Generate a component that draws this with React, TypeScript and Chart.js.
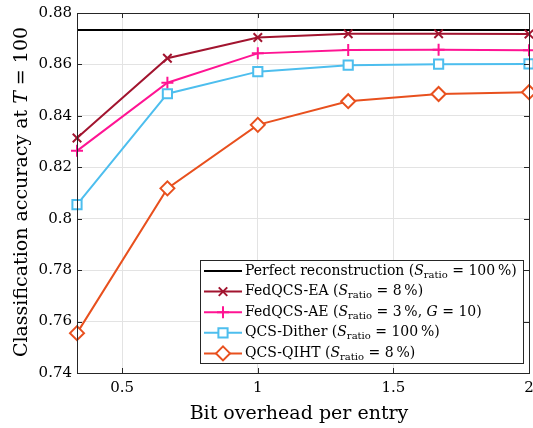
import React, { useEffect, useRef } from "react";
import { Chart, registerables } from "chart.js";
Chart.register(...registerables);

const xValues = [1 / 3, 2 / 3, 1, 4 / 3, 5 / 3, 2];
const perfectValue = 0.8734;
const fedqcsEA = [0.8314, 0.8624, 0.8705, 0.8719, 0.8719, 0.8718];
const fedqcsAE = [0.8264, 0.8529, 0.8643, 0.8656, 0.8657, 0.8655];
const qcsDither = [0.8055, 0.8486, 0.8572, 0.8597, 0.8601, 0.8602];
const qcsQIHT = [0.7555, 0.8118, 0.8365, 0.8457, 0.8485, 0.8492];
const xTicks = [0.5, 1, 1.5, 2];
const xTickLabels = ["0.5", "1", "1.5", "2"];
const yTicks = [0.74, 0.76, 0.78, 0.8, 0.82, 0.84, 0.86, 0.88];
const yTickLabels = ["0.74", "0.76", "0.78", "0.8", "0.82", "0.84", "0.86", "0.88"];

type Seg = { t: string; s?: "i" | "sub" };
const legendLabels: Seg[][] = [
  [{ t: "Perfect reconstruction (" }, { t: "S", s: "i" }, { t: "ratio", s: "sub" }, { t: " = 100\u2009%)" }],
  [{ t: "FedQCS-EA (" }, { t: "S", s: "i" }, { t: "ratio", s: "sub" }, { t: " = 8\u2009%)" }],
  [{ t: "FedQCS-AE (" }, { t: "S", s: "i" }, { t: "ratio", s: "sub" }, { t: " = 3\u2009%, " }, { t: "G", s: "i" }, { t: " = 10)" }],
  [{ t: "QCS-Dither (" }, { t: "S", s: "i" }, { t: "ratio", s: "sub" }, { t: " = 100\u2009%)" }],
  [{ t: "QCS-QIHT (" }, { t: "S", s: "i" }, { t: "ratio", s: "sub" }, { t: " = 8\u2009%)" }],
];
const yTitle: Seg[] = [{ t: "Classification accuracy at " }, { t: "T", s: "i" }, { t: " = 100" }];
const xTitle = "Bit overhead per entry";

const colors = ["#000000", "#A2142F", "#FF1493", "#4DBEEE", "#E8501E"];
const styles: (string | false)[] = [false, "crossRot", "cross", "rect", "rectRot"];
const radii = [0, 6, 6, 6.5, 7];
const FAMILY = "'DejaVu Serif', serif";

function drawRich(ctx: CanvasRenderingContext2D, segs: Seg[], x: number, y: number, size: number, measureOnly = false) {
  let cx = x;
  for (const seg of segs) {
    let font = `${size}px ${FAMILY}`;
    let dy = 0;
    if (seg.s === "i") font = `italic ${size}px ${FAMILY}`;
    if (seg.s === "sub") {
      font = `${Math.round(size * 0.7)}px ${FAMILY}`;
      dy = size * 0.28;
    }
    ctx.font = font;
    if (!measureOnly) ctx.fillText(seg.t, cx, y + dy);
    cx += ctx.measureText(seg.t).width;
  }
  return cx - x;
}

function drawMarker(ctx: CanvasRenderingContext2D, style: string | false, x: number, y: number, r: number, color: string) {
  if (!style) return;
  ctx.save();
  ctx.strokeStyle = color;
  ctx.lineWidth = 2;
  ctx.fillStyle = "#ffffff";
  ctx.beginPath();
  if (style === "crossRot") {
    const d = r * Math.SQRT1_2;
    ctx.moveTo(x - d, y - d);
    ctx.lineTo(x + d, y + d);
    ctx.moveTo(x - d, y + d);
    ctx.lineTo(x + d, y - d);
    ctx.stroke();
  } else if (style === "cross") {
    ctx.moveTo(x - r, y);
    ctx.lineTo(x + r, y);
    ctx.moveTo(x, y - r);
    ctx.lineTo(x, y + r);
    ctx.stroke();
  } else if (style === "rect") {
    const d = r * Math.SQRT1_2;
    ctx.rect(x - d, y - d, 2 * d, 2 * d);
    ctx.fill();
    ctx.stroke();
  } else if (style === "rectRot") {
    ctx.moveTo(x, y - r);
    ctx.lineTo(x + r, y);
    ctx.lineTo(x, y + r);
    ctx.lineTo(x - r, y);
    ctx.closePath();
    ctx.fill();
    ctx.stroke();
  }
  ctx.restore();
}

const overlayPlugin = {
  id: "overlay",
  afterDatasetsDraw(chart: any) {
    const ctx: CanvasRenderingContext2D = chart.ctx;
    const a = chart.chartArea;
    const xs = chart.scales.x;
    const ys = chart.scales.y;
    ctx.save();
    // frame
    ctx.strokeStyle = "#262626";
    ctx.lineWidth = 1;
    ctx.strokeRect(Math.round(a.left) + 0.5, Math.round(a.top) + 0.5, Math.round(a.right - a.left), Math.round(a.bottom - a.top));
    // inward ticks
    const tl = 5;
    ctx.beginPath();
    for (const v of xTicks) {
      const px = Math.round(xs.getPixelForValue(v)) + 0.5;
      ctx.moveTo(px, a.bottom);
      ctx.lineTo(px, a.bottom - tl);
      ctx.moveTo(px, a.top);
      ctx.lineTo(px, a.top + tl);
    }
    for (const v of yTicks) {
      const py = Math.round(ys.getPixelForValue(v)) + 0.5;
      ctx.moveTo(a.left, py);
      ctx.lineTo(a.left + tl, py);
      ctx.moveTo(a.right, py);
      ctx.lineTo(a.right - tl, py);
    }
    ctx.stroke();

    // legend
    const bx = 200, by = 260, bw = 323, bh = 103;
    ctx.fillStyle = "#ffffff";
    ctx.fillRect(bx, by, bw, bh);
    ctx.strokeStyle = "#262626";
    ctx.lineWidth = 1;
    ctx.strokeRect(bx + 0.5, by + 0.5, bw, bh);
    const rowH = 20.6;
    for (let i = 0; i < legendLabels.length; i++) {
      const cy = by + 11 + i * rowH;
      ctx.strokeStyle = colors[i];
      ctx.lineWidth = 2;
      ctx.beginPath();
      ctx.moveTo(bx + 4, cy);
      ctx.lineTo(bx + 42, cy);
      ctx.stroke();
      drawMarker(ctx, styles[i], bx + 23, cy, radii[i], colors[i]);
      ctx.fillStyle = "#000000";
      ctx.textBaseline = "middle";
      ctx.textAlign = "left";
      drawRich(ctx, legendLabels[i], bx + 45, cy, 14);
    }

    // axis titles
    ctx.fillStyle = "#000000";
    ctx.textBaseline = "alphabetic";
    ctx.textAlign = "left";
    ctx.font = `19px ${FAMILY}`;
    const xw = ctx.measureText(xTitle).width;
    ctx.fillText(xTitle, 299 - xw / 2, 419);

    const yw = drawRich(ctx, yTitle, 0, 0, 19, true);
    ctx.translate(27, 192);
    ctx.rotate(-Math.PI / 2);
    drawRich(ctx, yTitle, -yw / 2, 0, 19);
    ctx.restore();
  },
};

export default function App() {
  const ref = useRef<HTMLCanvasElement | null>(null);
  useEffect(() => {
    document.body.style.margin = "0";
    const mk = (i: number, data: number[], label: string) => ({
      label,
      data: xValues.map((x, k) => ({ x, y: data[k] })),
      borderColor: colors[i],
      backgroundColor: "#ffffff",
      borderWidth: 2,
      pointStyle: styles[i] as any,
      pointRadius: radii[i],
      pointBorderWidth: 2,
      pointBackgroundColor: "#ffffff",
      pointBorderColor: colors[i],
      tension: 0,
      clip: false as any,
    });
    const chart = new Chart(ref.current!, {
      type: "line",
      data: {
        datasets: [
          mk(4, qcsQIHT, "QCS-QIHT"),
          mk(3, qcsDither, "QCS-Dither"),
          mk(2, fedqcsAE, "FedQCS-AE"),
          mk(1, fedqcsEA, "FedQCS-EA"),
          {
            label: "Perfect reconstruction",
            data: [
              { x: xValues[0], y: perfectValue },
              { x: xValues[xValues.length - 1], y: perfectValue },
            ],
            borderColor: colors[0],
            borderWidth: 2,
            pointRadius: 0,
          },
        ],
      },
      options: {
        animation: false,
        responsive: false,
        events: [],
        layout: { autoPadding: false, padding: { left: 0, right: 4, top: 13, bottom: 0 } },
        plugins: { legend: { display: false }, tooltip: { enabled: false } },
        scales: {
          x: {
            type: "linear",
            min: xValues[0],
            max: 2,
            afterBuildTicks: (s: any) => {
              s.ticks = xTicks.map((v) => ({ value: v }));
            },
            afterFit: (s: any) => {
              s.height = 55;
              s.paddingLeft = 0;
              s.paddingRight = 0;
            },
            ticks: {
              callback: (v: any) => xTickLabels[xTicks.indexOf(Number(v))] ?? "",
              color: "#000",
              font: { family: FAMILY, size: 15 },
              padding: 6,
              maxRotation: 0,
            },
            grid: { color: "#e3e3e3", drawTicks: false, lineWidth: 1 },
            border: { display: false },
          },
          y: {
            type: "linear",
            min: 0.74,
            max: 0.88,
            afterBuildTicks: (s: any) => {
              s.ticks = yTicks.map((v) => ({ value: v }));
            },
            afterFit: (s: any) => {
              s.width = 77;
              s.paddingTop = 0;
              s.paddingBottom = 0;
            },
            ticks: {
              callback: (v: any) => {
                const idx = yTicks.findIndex((t) => Math.abs(t - Number(v)) < 1e-6);
                return idx >= 0 ? yTickLabels[idx] : "";
              },
              color: "#000",
              font: { family: FAMILY, size: 15 },
              padding: 5,
            },
            grid: { color: "#e3e3e3", drawTicks: false, lineWidth: 1 },
            border: { display: false },
          },
        },
      },
      plugins: [overlayPlugin],
    });
    return () => chart.destroy();
  }, []);
  return (
    <div style={{ position: "absolute", left: 0, top: 0, width: 533, height: 428, background: "#fff" }}>
      <canvas ref={ref} width={533} height={428} style={{ display: "block" }} />
    </div>
  );
}
